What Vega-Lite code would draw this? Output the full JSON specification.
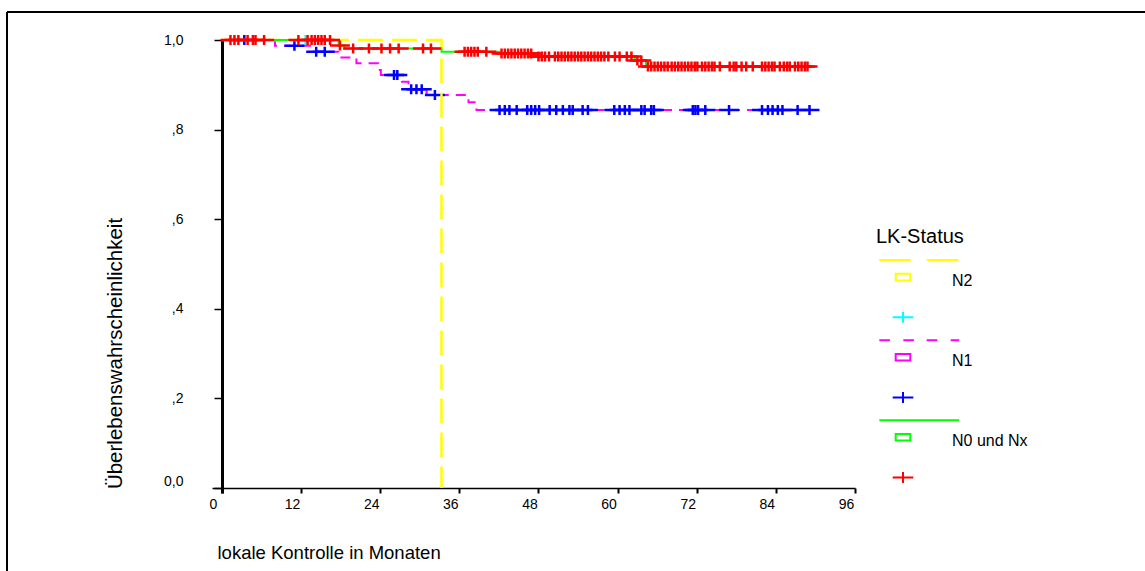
{
  "$schema": "https://vega.github.io/schema/vega-lite/v6.json",
  "width": 1138,
  "height": 559,
  "autosize": {"type": "none"},
  "padding": {"left": 7, "top": 12, "right": 0, "bottom": 0},
  "background": "white",
  "view": {"stroke": "#000000", "strokeWidth": 2, "strokeDash": [1138, 1697, 559, 0]},
  "config": {
    "font": "Liberation Sans",
    "axis": {
      "grid": false,
      "labelFont": "Liberation Sans",
      "titleFont": "Liberation Sans",
      "labelColor": "#000000",
      "titleColor": "#000000",
      "domainColor": "#000000",
      "tickColor": "#000000",
      "titleFontWeight": "normal",
      "labelFlush": false,
      "labelOverlap": false
    }
  },
  "datasets": {
    "kurven": [
      {"Gruppe": "N2", "Monate": 0, "Wert": 1},
      {"Gruppe": "N2", "Monate": 33.3, "Wert": 0},
      {"Gruppe": "N1", "Monate": 0, "Wert": 1},
      {"Gruppe": "N1", "Monate": 8.05, "Wert": 0.987},
      {"Gruppe": "N1", "Monate": 13.65, "Wert": 0.974},
      {"Gruppe": "N1", "Monate": 17.65, "Wert": 0.961},
      {"Gruppe": "N1", "Monate": 20.4, "Wert": 0.948},
      {"Gruppe": "N1", "Monate": 23.7, "Wert": 0.933},
      {"Gruppe": "N1", "Monate": 24.1, "Wert": 0.922},
      {"Gruppe": "N1", "Monate": 27.3, "Wert": 0.907},
      {"Gruppe": "N1", "Monate": 28.3, "Wert": 0.89},
      {"Gruppe": "N1", "Monate": 31.05, "Wert": 0.877},
      {"Gruppe": "N1", "Monate": 37.4, "Wert": 0.861},
      {"Gruppe": "N1", "Monate": 38.6, "Wert": 0.844},
      {"Gruppe": "N1", "Monate": 89.1, "Wert": 0.844},
      {"Gruppe": "N0 und Nx", "Monate": 0, "Wert": 1},
      {"Gruppe": "N0 und Nx", "Monate": 17.7, "Wert": 0.988},
      {"Gruppe": "N0 und Nx", "Monate": 18.6, "Wert": 0.981},
      {"Gruppe": "N0 und Nx", "Monate": 33.3, "Wert": 0.974},
      {"Gruppe": "N0 und Nx", "Monate": 42.1, "Wert": 0.97},
      {"Gruppe": "N0 und Nx", "Monate": 47.3, "Wert": 0.963},
      {"Gruppe": "N0 und Nx", "Monate": 62.6, "Wert": 0.954},
      {"Gruppe": "N0 und Nx", "Monate": 64.3, "Wert": 0.941},
      {"Gruppe": "N0 und Nx", "Monate": 88.8, "Wert": 0.941}
    ],
    "zensiert": [
      {"Gruppe": "N2", "Monate": 12.7, "Wert": 1},
      {"Gruppe": "N1", "Monate": 3.4, "Wert": 1},
      {"Gruppe": "N1", "Monate": 11.0, "Wert": 0.987},
      {"Gruppe": "N1", "Monate": 14.3, "Wert": 0.974},
      {"Gruppe": "N1", "Monate": 15.6, "Wert": 0.974},
      {"Gruppe": "N1", "Monate": 26.1, "Wert": 0.922},
      {"Gruppe": "N1", "Monate": 26.6, "Wert": 0.922},
      {"Gruppe": "N1", "Monate": 28.7, "Wert": 0.89},
      {"Gruppe": "N1", "Monate": 29.5, "Wert": 0.89},
      {"Gruppe": "N1", "Monate": 30.3, "Wert": 0.89},
      {"Gruppe": "N1", "Monate": 32.3, "Wert": 0.877},
      {"Gruppe": "N1", "Monate": 42.1, "Wert": 0.844},
      {"Gruppe": "N1", "Monate": 42.9, "Wert": 0.844},
      {"Gruppe": "N1", "Monate": 43.6, "Wert": 0.844},
      {"Gruppe": "N1", "Monate": 44.7, "Wert": 0.844},
      {"Gruppe": "N1", "Monate": 46.3, "Wert": 0.844},
      {"Gruppe": "N1", "Monate": 46.9, "Wert": 0.844},
      {"Gruppe": "N1", "Monate": 47.5, "Wert": 0.844},
      {"Gruppe": "N1", "Monate": 48.1, "Wert": 0.844},
      {"Gruppe": "N1", "Monate": 49.7, "Wert": 0.844},
      {"Gruppe": "N1", "Monate": 50.7, "Wert": 0.844},
      {"Gruppe": "N1", "Monate": 51.7, "Wert": 0.844},
      {"Gruppe": "N1", "Monate": 52.7, "Wert": 0.844},
      {"Gruppe": "N1", "Monate": 53.2, "Wert": 0.844},
      {"Gruppe": "N1", "Monate": 54.7, "Wert": 0.844},
      {"Gruppe": "N1", "Monate": 55.5, "Wert": 0.844},
      {"Gruppe": "N1", "Monate": 59.5, "Wert": 0.844},
      {"Gruppe": "N1", "Monate": 60.3, "Wert": 0.844},
      {"Gruppe": "N1", "Monate": 61.1, "Wert": 0.844},
      {"Gruppe": "N1", "Monate": 61.8, "Wert": 0.844},
      {"Gruppe": "N1", "Monate": 63.6, "Wert": 0.844},
      {"Gruppe": "N1", "Monate": 64.1, "Wert": 0.844},
      {"Gruppe": "N1", "Monate": 65.1, "Wert": 0.844},
      {"Gruppe": "N1", "Monate": 65.5, "Wert": 0.844},
      {"Gruppe": "N1", "Monate": 71.4, "Wert": 0.844},
      {"Gruppe": "N1", "Monate": 71.8, "Wert": 0.844},
      {"Gruppe": "N1", "Monate": 72.2, "Wert": 0.844},
      {"Gruppe": "N1", "Monate": 73.3, "Wert": 0.844},
      {"Gruppe": "N1", "Monate": 76.9, "Wert": 0.844},
      {"Gruppe": "N1", "Monate": 81.9, "Wert": 0.844},
      {"Gruppe": "N1", "Monate": 82.8, "Wert": 0.844},
      {"Gruppe": "N1", "Monate": 83.5, "Wert": 0.844},
      {"Gruppe": "N1", "Monate": 84.3, "Wert": 0.844},
      {"Gruppe": "N1", "Monate": 85.0, "Wert": 0.844},
      {"Gruppe": "N1", "Monate": 87.3, "Wert": 0.844},
      {"Gruppe": "N1", "Monate": 89.1, "Wert": 0.844},
      {"Gruppe": "N0 und Nx", "Monate": 1.3, "Wert": 1},
      {"Gruppe": "N0 und Nx", "Monate": 1.9, "Wert": 1},
      {"Gruppe": "N0 und Nx", "Monate": 2.5, "Wert": 1},
      {"Gruppe": "N0 und Nx", "Monate": 3.9, "Wert": 1},
      {"Gruppe": "N0 und Nx", "Monate": 4.7, "Wert": 1},
      {"Gruppe": "N0 und Nx", "Monate": 5.1, "Wert": 1},
      {"Gruppe": "N0 und Nx", "Monate": 6.4, "Wert": 1},
      {"Gruppe": "N0 und Nx", "Monate": 11.6, "Wert": 1},
      {"Gruppe": "N0 und Nx", "Monate": 13.0, "Wert": 1},
      {"Gruppe": "N0 und Nx", "Monate": 13.6, "Wert": 1},
      {"Gruppe": "N0 und Nx", "Monate": 14.1, "Wert": 1},
      {"Gruppe": "N0 und Nx", "Monate": 14.6, "Wert": 1},
      {"Gruppe": "N0 und Nx", "Monate": 15.1, "Wert": 1},
      {"Gruppe": "N0 und Nx", "Monate": 15.6, "Wert": 1},
      {"Gruppe": "N0 und Nx", "Monate": 16.4, "Wert": 1},
      {"Gruppe": "N0 und Nx", "Monate": 17.9, "Wert": 0.988},
      {"Gruppe": "N0 und Nx", "Monate": 19.9, "Wert": 0.981},
      {"Gruppe": "N0 und Nx", "Monate": 22.3, "Wert": 0.981},
      {"Gruppe": "N0 und Nx", "Monate": 24.2, "Wert": 0.981},
      {"Gruppe": "N0 und Nx", "Monate": 25.5, "Wert": 0.981},
      {"Gruppe": "N0 und Nx", "Monate": 26.8, "Wert": 0.981},
      {"Gruppe": "N0 und Nx", "Monate": 30.5, "Wert": 0.981},
      {"Gruppe": "N0 und Nx", "Monate": 31.7, "Wert": 0.981},
      {"Gruppe": "N0 und Nx", "Monate": 36.8, "Wert": 0.974},
      {"Gruppe": "N0 und Nx", "Monate": 37.3, "Wert": 0.974},
      {"Gruppe": "N0 und Nx", "Monate": 37.8, "Wert": 0.974},
      {"Gruppe": "N0 und Nx", "Monate": 38.3, "Wert": 0.974},
      {"Gruppe": "N0 und Nx", "Monate": 38.8, "Wert": 0.974},
      {"Gruppe": "N0 und Nx", "Monate": 40.1, "Wert": 0.974},
      {"Gruppe": "N0 und Nx", "Monate": 42.4, "Wert": 0.97},
      {"Gruppe": "N0 und Nx", "Monate": 42.9, "Wert": 0.97},
      {"Gruppe": "N0 und Nx", "Monate": 43.4, "Wert": 0.97},
      {"Gruppe": "N0 und Nx", "Monate": 43.9, "Wert": 0.97},
      {"Gruppe": "N0 und Nx", "Monate": 44.4, "Wert": 0.97},
      {"Gruppe": "N0 und Nx", "Monate": 44.9, "Wert": 0.97},
      {"Gruppe": "N0 und Nx", "Monate": 45.4, "Wert": 0.97},
      {"Gruppe": "N0 und Nx", "Monate": 45.9, "Wert": 0.97},
      {"Gruppe": "N0 und Nx", "Monate": 46.4, "Wert": 0.97},
      {"Gruppe": "N0 und Nx", "Monate": 46.9, "Wert": 0.97},
      {"Gruppe": "N0 und Nx", "Monate": 48.0, "Wert": 0.963},
      {"Gruppe": "N0 und Nx", "Monate": 48.5, "Wert": 0.963},
      {"Gruppe": "N0 und Nx", "Monate": 49.0, "Wert": 0.963},
      {"Gruppe": "N0 und Nx", "Monate": 49.6, "Wert": 0.963},
      {"Gruppe": "N0 und Nx", "Monate": 50.5, "Wert": 0.963},
      {"Gruppe": "N0 und Nx", "Monate": 51.0, "Wert": 0.963},
      {"Gruppe": "N0 und Nx", "Monate": 51.5, "Wert": 0.963},
      {"Gruppe": "N0 und Nx", "Monate": 52.0, "Wert": 0.963},
      {"Gruppe": "N0 und Nx", "Monate": 52.5, "Wert": 0.963},
      {"Gruppe": "N0 und Nx", "Monate": 53.0, "Wert": 0.963},
      {"Gruppe": "N0 und Nx", "Monate": 53.5, "Wert": 0.963},
      {"Gruppe": "N0 und Nx", "Monate": 54.0, "Wert": 0.963},
      {"Gruppe": "N0 und Nx", "Monate": 54.5, "Wert": 0.963},
      {"Gruppe": "N0 und Nx", "Monate": 55.0, "Wert": 0.963},
      {"Gruppe": "N0 und Nx", "Monate": 55.5, "Wert": 0.963},
      {"Gruppe": "N0 und Nx", "Monate": 56.0, "Wert": 0.963},
      {"Gruppe": "N0 und Nx", "Monate": 56.5, "Wert": 0.963},
      {"Gruppe": "N0 und Nx", "Monate": 57.0, "Wert": 0.963},
      {"Gruppe": "N0 und Nx", "Monate": 57.5, "Wert": 0.963},
      {"Gruppe": "N0 und Nx", "Monate": 58.0, "Wert": 0.963},
      {"Gruppe": "N0 und Nx", "Monate": 58.6, "Wert": 0.963},
      {"Gruppe": "N0 und Nx", "Monate": 59.6, "Wert": 0.963},
      {"Gruppe": "N0 und Nx", "Monate": 60.3, "Wert": 0.963},
      {"Gruppe": "N0 und Nx", "Monate": 61.4, "Wert": 0.963},
      {"Gruppe": "N0 und Nx", "Monate": 62.1, "Wert": 0.963},
      {"Gruppe": "N0 und Nx", "Monate": 63.0, "Wert": 0.954},
      {"Gruppe": "N0 und Nx", "Monate": 63.6, "Wert": 0.954},
      {"Gruppe": "N0 und Nx", "Monate": 64.6, "Wert": 0.941},
      {"Gruppe": "N0 und Nx", "Monate": 65.1, "Wert": 0.941},
      {"Gruppe": "N0 und Nx", "Monate": 65.6, "Wert": 0.941},
      {"Gruppe": "N0 und Nx", "Monate": 66.1, "Wert": 0.941},
      {"Gruppe": "N0 und Nx", "Monate": 66.6, "Wert": 0.941},
      {"Gruppe": "N0 und Nx", "Monate": 67.1, "Wert": 0.941},
      {"Gruppe": "N0 und Nx", "Monate": 67.6, "Wert": 0.941},
      {"Gruppe": "N0 und Nx", "Monate": 68.2, "Wert": 0.941},
      {"Gruppe": "N0 und Nx", "Monate": 68.7, "Wert": 0.941},
      {"Gruppe": "N0 und Nx", "Monate": 69.2, "Wert": 0.941},
      {"Gruppe": "N0 und Nx", "Monate": 69.7, "Wert": 0.941},
      {"Gruppe": "N0 und Nx", "Monate": 70.2, "Wert": 0.941},
      {"Gruppe": "N0 und Nx", "Monate": 70.7, "Wert": 0.941},
      {"Gruppe": "N0 und Nx", "Monate": 71.2, "Wert": 0.941},
      {"Gruppe": "N0 und Nx", "Monate": 71.7, "Wert": 0.941},
      {"Gruppe": "N0 und Nx", "Monate": 72.1, "Wert": 0.941},
      {"Gruppe": "N0 und Nx", "Monate": 72.8, "Wert": 0.941},
      {"Gruppe": "N0 und Nx", "Monate": 73.3, "Wert": 0.941},
      {"Gruppe": "N0 und Nx", "Monate": 73.8, "Wert": 0.941},
      {"Gruppe": "N0 und Nx", "Monate": 74.3, "Wert": 0.941},
      {"Gruppe": "N0 und Nx", "Monate": 74.7, "Wert": 0.941},
      {"Gruppe": "N0 und Nx", "Monate": 75.5, "Wert": 0.941},
      {"Gruppe": "N0 und Nx", "Monate": 77.0, "Wert": 0.941},
      {"Gruppe": "N0 und Nx", "Monate": 77.6, "Wert": 0.941},
      {"Gruppe": "N0 und Nx", "Monate": 78.0, "Wert": 0.941},
      {"Gruppe": "N0 und Nx", "Monate": 78.8, "Wert": 0.941},
      {"Gruppe": "N0 und Nx", "Monate": 79.5, "Wert": 0.941},
      {"Gruppe": "N0 und Nx", "Monate": 80.5, "Wert": 0.941},
      {"Gruppe": "N0 und Nx", "Monate": 81.9, "Wert": 0.941},
      {"Gruppe": "N0 und Nx", "Monate": 82.4, "Wert": 0.941},
      {"Gruppe": "N0 und Nx", "Monate": 82.9, "Wert": 0.941},
      {"Gruppe": "N0 und Nx", "Monate": 83.4, "Wert": 0.941},
      {"Gruppe": "N0 und Nx", "Monate": 83.8, "Wert": 0.941},
      {"Gruppe": "N0 und Nx", "Monate": 84.6, "Wert": 0.941},
      {"Gruppe": "N0 und Nx", "Monate": 85.2, "Wert": 0.941},
      {"Gruppe": "N0 und Nx", "Monate": 85.7, "Wert": 0.941},
      {"Gruppe": "N0 und Nx", "Monate": 86.1, "Wert": 0.941},
      {"Gruppe": "N0 und Nx", "Monate": 86.9, "Wert": 0.941},
      {"Gruppe": "N0 und Nx", "Monate": 87.4, "Wert": 0.941},
      {"Gruppe": "N0 und Nx", "Monate": 87.9, "Wert": 0.941},
      {"Gruppe": "N0 und Nx", "Monate": 88.4, "Wert": 0.941},
      {"Gruppe": "N0 und Nx", "Monate": 88.8, "Wert": 0.941}
    ]
  },
  "encoding": {
    "x": {
      "field": "Monate",
      "type": "quantitative",
      "scale": {"domain": [-1.5, 96], "range": [205, 848], "nice": false, "zero": false},
      "axis": {
        "title": "lokale Kontrolle in Monaten",
        "orient": "bottom",
        "offset": -83,
        "values": [0, 12, 24, 36, 48, 60, 72, 84, 96],
        "format": "d",
        "labelOffset": -9,
        "labelFontSize": 14,
        "labelPadding": 4,
        "tickSize": 5,
        "tickWidth": 2,
        "domainWidth": 1.5,
        "titleFontSize": 18.5,
        "titleX": 210,
        "titleY": 64,
        "titleAlign": "left",
        "titleAnchor": "start",
        "titleBaseline": "middle"
      }
    },
    "y": {
      "field": "Wert",
      "type": "quantitative",
      "scale": {"domain": [-0.011, 1], "range": [481, 28], "nice": false, "zero": false},
      "axis": {
        "title": "Überlebenswahrscheinlichkeit",
        "orient": "left",
        "offset": -215,
        "values": [0, 0.2, 0.4, 0.6, 0.8, 1],
        "labelExpr": "datum.value == 1 ? '1,0' : datum.value == 0 ? '0,0' : ',' + round(datum.value * 10)",
        "labelOffset": {"condition": {"test": "datum.value == 0", "value": -7}, "value": 0},
        "labelFontSize": 14,
        "labelPadding": 31,
        "tickSize": 8,
        "tickWidth": 1.5,
        "domainWidth": 3,
        "titleFontSize": 20.5,
        "titleX": -107,
        "titleY": 341,
        "titleAngle": 270,
        "titleAlign": "center",
        "titleBaseline": "middle"
      }
    }
  },
  "layer": [
    {
      "data": {"name": "kurven"},
      "transform": [{"filter": {"field": "Gruppe", "equal": "N1"}}],
      "mark": {"type": "line", "interpolate": "step-after", "color": "#ff00ff", "strokeWidth": 2, "strokeDash": [10, 7]}
    },
    {
      "data": {"name": "zensiert"},
      "transform": [{"filter": {"field": "Gruppe", "equal": "N1"}}],
      "mark": {"type": "point", "shape": "M-1,0H1M0,-0.5V0.5", "size": 400, "filled": false, "color": "#0000ff", "strokeWidth": 2.5, "opacity": 1}
    },
    {
      "data": {"name": "kurven"},
      "transform": [{"filter": {"field": "Gruppe", "equal": "N2"}}],
      "mark": {"type": "line", "interpolate": "step-after", "color": "#ffff00", "strokeWidth": 2.5, "strokeDash": [25, 9]}
    },
    {
      "data": {"name": "zensiert"},
      "transform": [{"filter": {"field": "Gruppe", "equal": "N2"}}],
      "mark": {"type": "point", "shape": "M-1,0H1M0,-0.5V0.5", "size": 400, "filled": false, "color": "#00ffff", "strokeWidth": 2.5, "opacity": 1}
    },
    {
      "data": {"name": "kurven"},
      "transform": [{"filter": {"field": "Gruppe", "equal": "N0 und Nx"}}],
      "mark": {"type": "line", "interpolate": "step-after", "color": "#00ff00", "strokeWidth": 2}
    },
    {
      "data": {"name": "zensiert"},
      "transform": [{"filter": {"field": "Gruppe", "equal": "N0 und Nx"}}],
      "mark": {"type": "point", "shape": "M-1,0H1M0,-0.5V0.5", "size": 400, "filled": false, "color": "#ff0000", "strokeWidth": 2.5, "opacity": 1}
    },
    {
      "data": {"name": "zensiert"},
      "mark": {"type": "point", "filled": false, "opacity": 0, "size": 900, "strokeWidth": 2},
      "encoding": {
        "shape": {
          "field": "Gruppe",
          "type": "nominal",
          "scale": {
            "domain": ["N2", "N2 Zensur", "N1", "N1 Zensur", "N0 und Nx", "N0 Zensur"],
            "range": [
              "M-1.7,-0.9M3.9,1.1M-1.58,-0.86H0.51M1.58,-0.86H3.69M-0.487,0.053H0.487V0.493H-0.487Z",
              "M-1.7,-0.9M3.9,1.1M-0.687,0.287H0.687M0,-0.08V0.653",
              "M-1.7,-0.9M3.9,1.1M-1.58,-0.86H-0.87M0.02,-0.86H0.73M1.58,-0.86H2.29M3.18,-0.86H3.75M-0.487,0.053H0.487V0.493H-0.487Z",
              "M-1.7,-0.9M3.9,1.1M-0.687,0.287H0.687M0,-0.08V0.653",
              "M-1.7,-0.9M3.9,1.1M-1.58,-0.86H3.75M-0.487,0.053H0.487V0.493H-0.487Z",
              "M-1.7,-0.9M3.9,1.1M-0.687,0.287H0.687M0,-0.08V0.653"
            ]
          },
          "legend": {
            "title": "LK-Status",
            "orient": "none",
            "legendX": 869,
            "legendY": 215,
            "padding": 0,
            "symbolSize": 900,
            "symbolStrokeWidth": 2,
            "symbolOpacity": 1,
            "symbolOffset": 11,
            "labelOffset": 33,
            "labelBaseline": "top",
            "labelFontSize": 16,
            "labelFont": "Liberation Sans",
            "labelColor": "#000000",
            "labelLimit": 300,
            "labelExpr": "indexof(['N2', 'N1', 'N0 und Nx'], datum.label) >= 0 ? datum.label : ''",
            "titleFontSize": 20,
            "titleFont": "Liberation Sans",
            "titleFontWeight": "normal",
            "titleColor": "#000000",
            "titlePadding": 10,
            "rowPadding": 1.05
          }
        },
        "color": {
          "field": "Gruppe",
          "type": "nominal",
          "scale": {
            "domain": ["N2", "N2 Zensur", "N1", "N1 Zensur", "N0 und Nx", "N0 Zensur"],
            "range": ["#ffff00", "#00ffff", "#ff00ff", "#0000ff", "#00ff00", "#ff0000"]
          },
          "legend": {
            "title": "LK-Status",
            "orient": "none",
            "legendX": 869,
            "legendY": 215,
            "padding": 0,
            "symbolSize": 900,
            "symbolStrokeWidth": 2,
            "symbolOpacity": 1,
            "symbolOffset": 11,
            "labelOffset": 33,
            "labelBaseline": "top",
            "labelFontSize": 16,
            "labelFont": "Liberation Sans",
            "labelColor": "#000000",
            "labelLimit": 300,
            "labelExpr": "indexof(['N2', 'N1', 'N0 und Nx'], datum.label) >= 0 ? datum.label : ''",
            "titleFontSize": 20,
            "titleFont": "Liberation Sans",
            "titleFontWeight": "normal",
            "titleColor": "#000000",
            "titlePadding": 10,
            "rowPadding": 1.05
          }
        }
      }
    }
  ]
}
